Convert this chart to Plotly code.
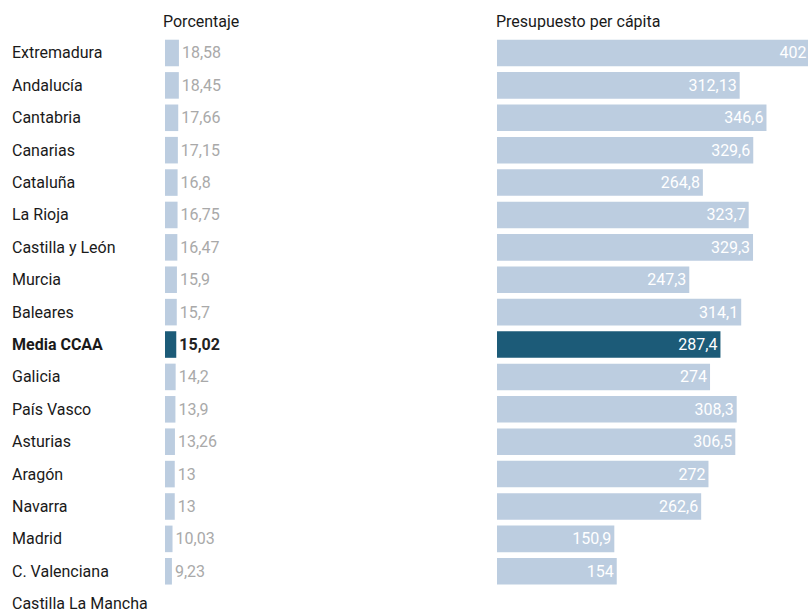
import plotly.graph_objects as go

regions = ["Extremadura", "Andalucía", "Cantabria", "Canarias", "Cataluña", "La Rioja",
           "Castilla y León", "Murcia", "Baleares", "Media CCAA", "Galicia", "País Vasco",
           "Asturias", "Aragón", "Navarra", "Madrid", "C. Valenciana", "Castilla La Mancha"]
porcentaje = [18.58, 18.45, 17.66, 17.15, 16.8, 16.75, 16.47, 15.9, 15.7, 15.02, 14.2, 13.9,
              13.26, 13, 13, 10.03, 9.23, None]
per_capita = [402, 312.13, 346.6, 329.6, 264.8, 323.7, 329.3, 247.3, 314.1, 287.4, 274, 308.3,
              306.5, 272, 262.6, 150.9, 154, None]
highlight = "Media CCAA"
header_left = "Porcentaje"
header_right = "Presupuesto per cápita"

LIGHT = "#bccde0"
DARK = "#1c5b78"
FONT = "Roboto"

def fmt(v):
    return "" if v is None else f"{v:g}".replace(".", ",")

colors = [DARK if r == highlight else LIGHT for r in regions]
left_text_colors = ["#222222" if r == highlight else "#a9a9a9" for r in regions]
left_text = [("<b>%s</b>" % fmt(v)) if r == highlight else fmt(v) for r, v in zip(regions, porcentaje)]

fig = go.Figure()
fig.add_trace(go.Bar(
    y=regions, x=porcentaje, orientation="h", xaxis="x", yaxis="y",
    marker=dict(color=colors, line=dict(width=0)), width=0.82,
    text=left_text, textposition="outside", cliponaxis=False,
    textfont=dict(family=FONT, size=16, color=left_text_colors),
    hoverinfo="skip", showlegend=False,
))
fig.add_trace(go.Bar(
    y=regions, x=per_capita, orientation="h", xaxis="x2", yaxis="y",
    marker=dict(color=colors, line=dict(width=0)), width=0.82,
    text=[fmt(v) for v in per_capita], textposition="inside", insidetextanchor="end",
    constraintext="none",
    textfont=dict(family=FONT, size=16, color="white"),
    hoverinfo="skip", showlegend=False,
))

W, H = 808, 615
annotations = []
for r in regions:
    annotations.append(dict(
        x=10 / W, xref="paper", y=r, yref="y", xanchor="left", yanchor="middle",
        text=("<b>%s</b>" % r) if r == highlight else r, showarrow=False,
        font=dict(family=FONT, size=16, color="#1a1a1a"),
    ))
annotations.append(dict(x=161 / W, xref="paper", y=1 - 21 / H, yref="paper", xanchor="left",
                        yanchor="middle", text=header_left, showarrow=False,
                        font=dict(family=FONT, size=16, color="#1a1a1a")))
annotations.append(dict(x=494 / W, xref="paper", y=1 - 21 / H, yref="paper", xanchor="left",
                        yanchor="middle", text=header_right, showarrow=False,
                        font=dict(family=FONT, size=16, color="#1a1a1a")))

axis_off = dict(showgrid=False, zeroline=False, showticklabels=False, showline=False, ticks="")
fig.update_layout(
    width=W, height=H, margin=dict(l=0, r=0, t=0, b=0),
    paper_bgcolor="white", plot_bgcolor="white",
    xaxis=dict(domain=[165 / W, 480 / W], range=[0, 420], **axis_off),
    xaxis2=dict(domain=[497 / W, 1], range=[0, 400], **axis_off),
    yaxis=dict(type="category", categoryorder="array", categoryarray=regions,
               range=[17.35, -1.636], **axis_off),
    annotations=annotations,
    bargap=0.18,
)
fig.write_html("out.html")
